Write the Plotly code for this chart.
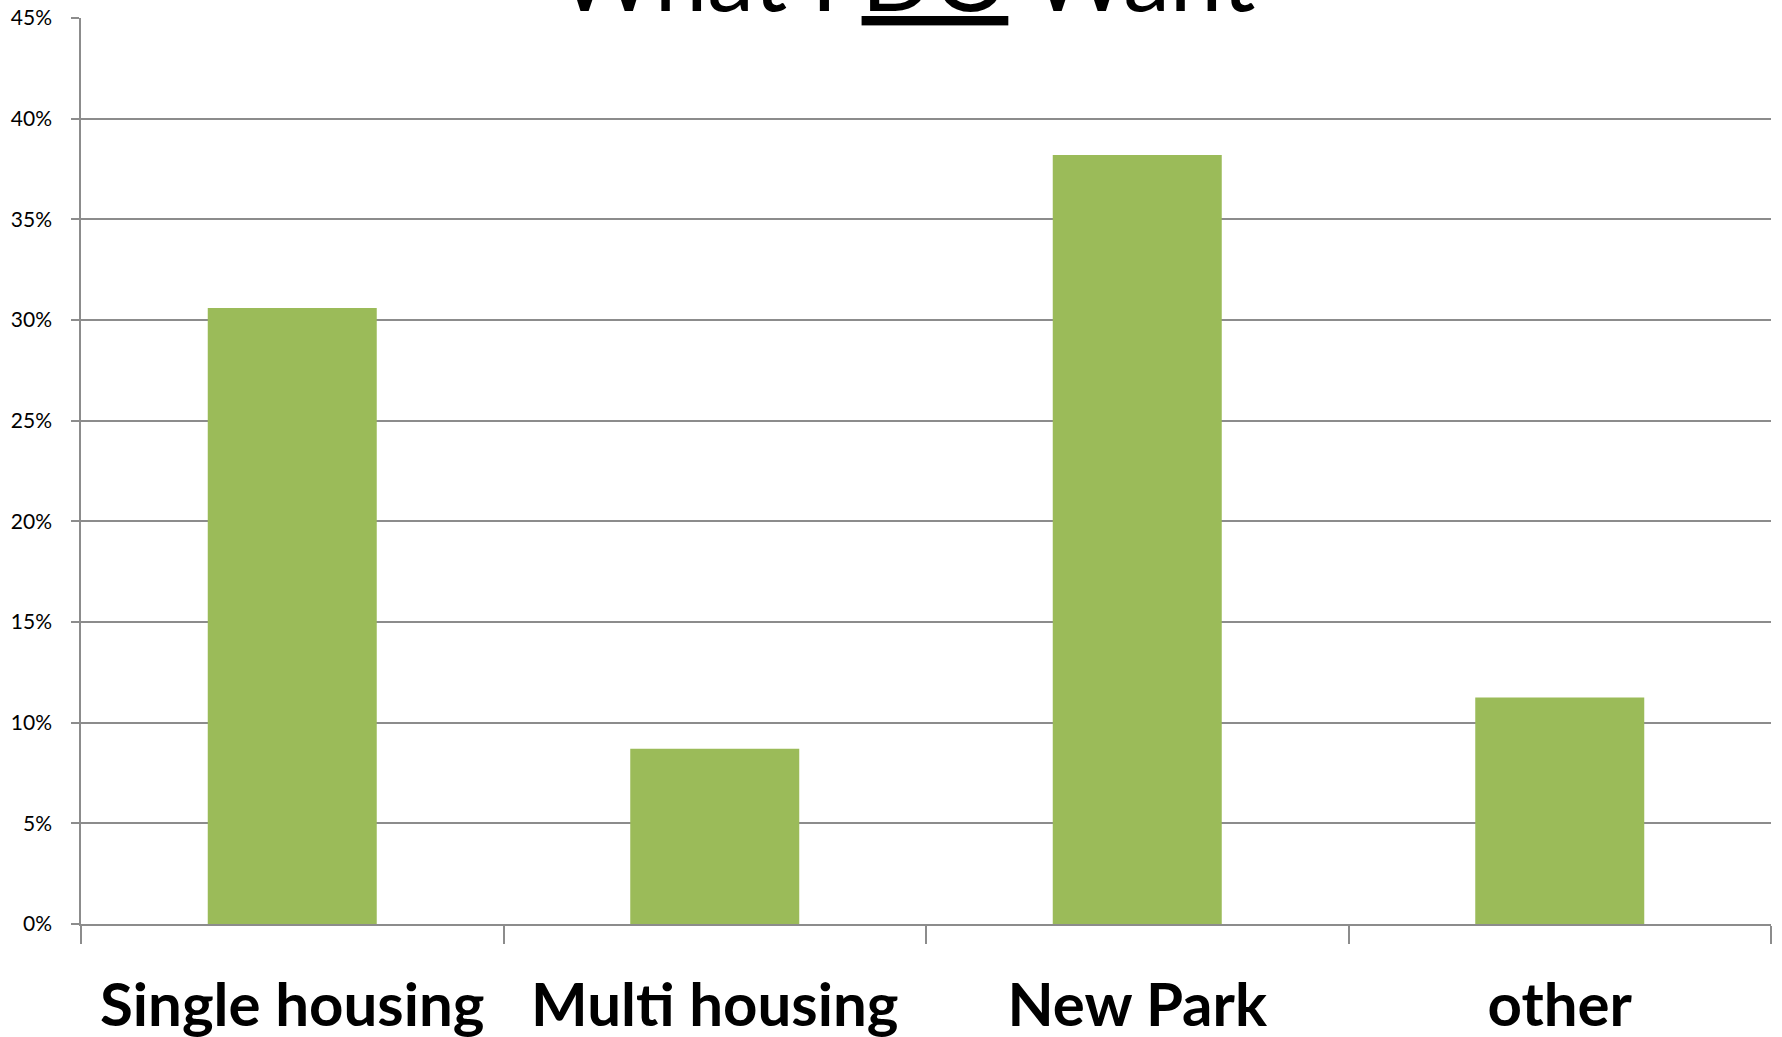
import plotly.graph_objects as go

categories = ["Single housing", "Multi housing", "New Park", "other"]
values = [30.6, 8.7, 38.2, 11.25]
y_ticks = [0, 5, 10, 15, 20, 25, 30, 35, 40, 45]
y_tick_labels = [f"{v}%" for v in y_ticks]
title_text = "What I <u>DO</u> Want"

fig = go.Figure()
fig.add_trace(go.Bar(
    x=categories, y=values,
    marker=dict(color="#9BBB59", line=dict(width=0)),
    width=0.4,
))

fig.update_layout(
    template="none",
    width=1782, height=1037,
    margin=dict(l=81, r=11, t=18, b=113, pad=0, autoexpand=False),
    paper_bgcolor="white", plot_bgcolor="white",
    showlegend=False,
    font=dict(family="Lato, Open Sans, sans-serif", color="black"),
    annotations=[dict(
        text=title_text, xref="paper", yref="paper", x=0.5, y=1,
        xanchor="center", yanchor="bottom", yshift=-15, xshift=-20, showarrow=False,
        font=dict(size=94, family="Lato, sans-serif", color="black"),
    )],
)

fig.update_xaxes(
    type="category",
    automargin=False,
    range=[-0.5, 3.5],
    showline=True, linecolor="#8c8c8c", linewidth=1.5,
    ticks="outside", ticklen=18, tickcolor="#8c8c8c", tickwidth=1.5,
    tickson="boundaries",
    showgrid=False,
    tickfont=dict(size=60, family="Lato, sans-serif", color="black", weight="bold"),
    ticklabelstandoff=28,
)

fig.update_yaxes(
    automargin=False,
    range=[0, 45],
    tickvals=y_ticks, ticktext=y_tick_labels,
    showline=True, linecolor="#8c8c8c", linewidth=1.5,
    ticks="outside", ticklen=8, tickcolor="#8c8c8c", tickwidth=1.5,
    showgrid=True, gridcolor="#8c8c8c", gridwidth=1.5,
    zeroline=False,
    tickfont=dict(size=21, family="Lato, sans-serif", color="black"),
    ticklabelstandoff=15,
)

fig.write_html(
    "out.html",
    config={"displayModeBar": False},
    post_script="document.body.style.margin='0';document.body.style.overflow='hidden';",
)
